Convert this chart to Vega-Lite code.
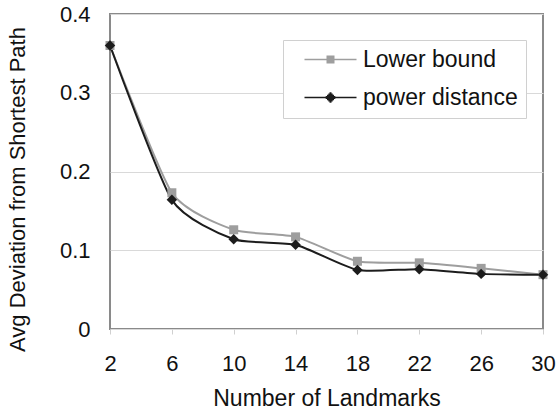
{
  "$schema": "https://vega.github.io/schema/vega-lite/v6.json",
  "width": 433,
  "height": 315,
  "autosize": {"type": "none"},
  "padding": {"left": 110, "top": 14, "right": 14, "bottom": 83},
  "background": "white",
  "config": {
    "font": "Liberation Sans",
    "view": {"stroke": "#8a8a8a", "strokeWidth": 2}
  },
  "data": {
    "values": [
      {"landmarks": 2, "series": "Lower bound", "dev": 0.36},
      {"landmarks": 6, "series": "Lower bound", "dev": 0.173},
      {"landmarks": 10, "series": "Lower bound", "dev": 0.126},
      {"landmarks": 14, "series": "Lower bound", "dev": 0.117},
      {"landmarks": 18, "series": "Lower bound", "dev": 0.086},
      {"landmarks": 22, "series": "Lower bound", "dev": 0.084},
      {"landmarks": 26, "series": "Lower bound", "dev": 0.077},
      {"landmarks": 30, "series": "Lower bound", "dev": 0.069},
      {"landmarks": 2, "series": "power distance", "dev": 0.36},
      {"landmarks": 6, "series": "power distance", "dev": 0.164},
      {"landmarks": 10, "series": "power distance", "dev": 0.114},
      {"landmarks": 14, "series": "power distance", "dev": 0.107},
      {"landmarks": 18, "series": "power distance", "dev": 0.075},
      {"landmarks": 22, "series": "power distance", "dev": 0.076},
      {"landmarks": 26, "series": "power distance", "dev": 0.07},
      {"landmarks": 30, "series": "power distance", "dev": 0.069}
    ]
  },
  "encoding": {
    "x": {
      "field": "landmarks",
      "type": "quantitative",
      "title": "Number of Landmarks",
      "scale": {"domain": [2, 30], "nice": false, "zero": false},
      "axis": {
        "values": [2, 6, 10, 14, 18, 22, 26, 30],
        "domain": false,
        "grid": false,
        "ticks": true,
        "tickSize": 5,
        "tickColor": "#d0d0d0",
        "labelPadding": 19,
        "labelFontSize": 22,
        "labelColor": "#111111",
        "labelFlush": false,
        "titleFontSize": 23,
        "titleFontWeight": "normal",
        "titleColor": "#111111",
        "titlePadding": 13
      }
    },
    "y": {
      "field": "dev",
      "type": "quantitative",
      "title": "Avg Deviation from Shortest Path",
      "scale": {"domain": [0, 0.4], "nice": false},
      "axis": {
        "values": [0, 0.1, 0.2, 0.3, 0.4],
        "format": ".1~f",
        "domain": false,
        "grid": true,
        "gridColor": "#d9d9d9",
        "gridWidth": 1,
        "ticks": false,
        "tickSize": 0,
        "labelPadding": 20,
        "labelFontSize": 22,
        "labelColor": "#111111",
        "labelFlush": false,
        "titleFontSize": 22,
        "titleFontWeight": "normal",
        "titleColor": "#111111",
        "titlePadding": 30,
        "titleY": 175
      }
    },
    "color": {
      "field": "series",
      "type": "nominal",
      "title": null,
      "scale": {"domain": ["Lower bound", "power distance"], "range": ["#9e9e9e", "#1c1c1c"]},
      "legend": {
        "title": null,
        "orient": "none",
        "legendX": 173,
        "legendY": 26,
        "padding": 8,
        "strokeColor": "#d0d0d0",
        "fillColor": "white",
        "labelFontSize": 23,
        "labelColor": "#111111",
        "symbolSize": 400,
        "symbolOffset": 28,
        "labelOffset": 21,
        "rowPadding": 14,
        "symbolStrokeWidth": 1.5,
        "symbolOpacity": 1
      }
    }
  },
  "layer": [
    {
      "mark": {"type": "line", "interpolate": "cardinal", "tension": 0.4, "strokeWidth": 2}
    },
    {
      "transform": [{"filter": "datum.dev < 0"}],
      "mark": {"type": "point", "filled": false, "strokeWidth": 1.5},
      "encoding": {
        "shape": {
          "field": "series",
          "type": "nominal",
          "title": null,
          "scale": {
            "domain": ["Lower bound", "power distance"],
            "range": [
              "M-2.6,0H2.6M-0.4,-0.33H0.4M-0.4,-0.2H0.4M-0.4,-0.07H0.4M-0.4,0.07H0.4M-0.4,0.2H0.4M-0.4,0.33H0.4",
              "M-2.6,0H2.6M-0.1,-0.45H0.1M-0.22,-0.33H0.22M-0.35,-0.2H0.35M-0.48,-0.07H0.48M-0.48,0.07H0.48M-0.35,0.2H0.35M-0.22,0.33H0.22M-0.1,0.45H0.1"
            ]
          },
          "legend": {
            "title": null,
            "orient": "none",
            "legendX": 173,
            "legendY": 26,
            "padding": 8,
            "strokeColor": "#d0d0d0",
            "fillColor": "white",
            "labelFontSize": 23,
            "labelColor": "#111111",
            "symbolSize": 400,
            "symbolOffset": 28,
            "labelOffset": 21,
            "rowPadding": 14,
            "symbolStrokeWidth": 1.5,
            "symbolOpacity": 1
          }
        }
      }
    },
    {
      "transform": [{"filter": "datum.series === 'Lower bound'"}],
      "mark": {"type": "point", "filled": true, "opacity": 1, "shape": "square", "size": 81, "color": "#9e9e9e"}
    },
    {
      "transform": [{"filter": "datum.series === 'power distance'"}],
      "mark": {"type": "point", "filled": true, "opacity": 1, "shape": "diamond", "size": 110, "color": "#1c1c1c"}
    }
  ]
}
